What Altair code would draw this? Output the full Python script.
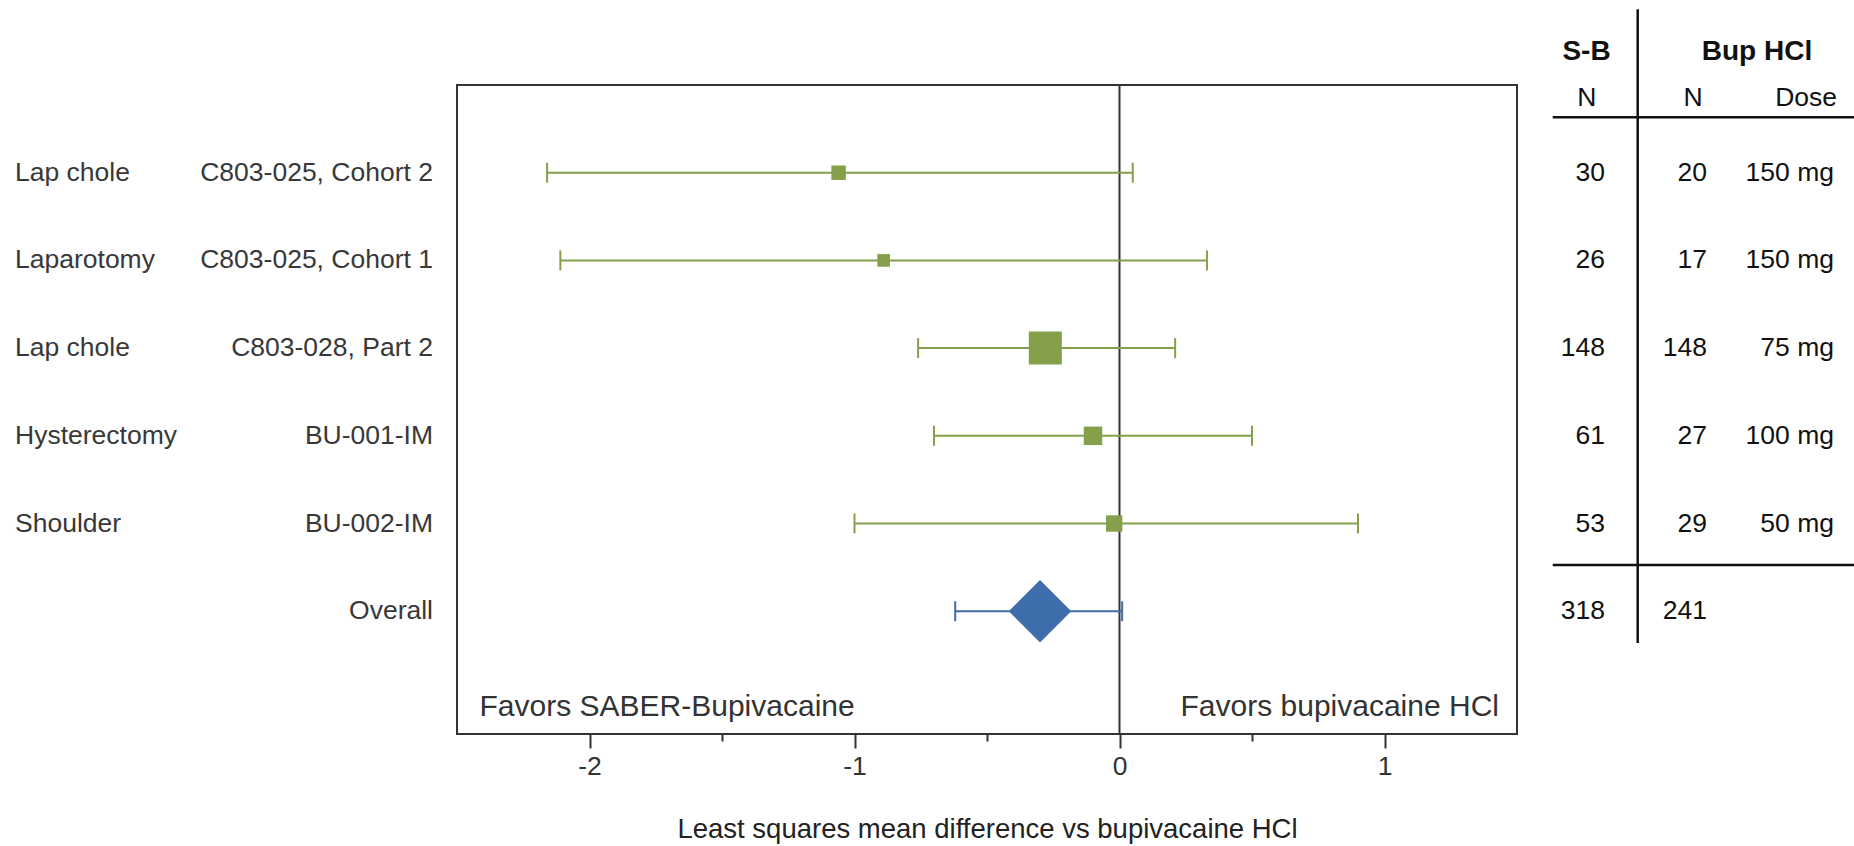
import altair as alt
import pandas as pd

# ---------------- data ----------------
surgery = ["Lap chole", "Laparotomy", "Lap chole", "Hysterectomy", "Shoulder"]
study = ["C803-025, Cohort 2", "C803-025, Cohort 1", "C803-028, Part 2", "BU-001-IM", "BU-002-IM"]
estimate = [-1.06, -0.89, -0.28, -0.10, -0.02]
ci_low = [-2.16, -2.11, -0.76, -0.70, -1.00]
ci_high = [0.05, 0.33, 0.21, 0.50, 0.90]
weight = [10.1, 7.7, 52.7, 16.5, 13.0]
sb_n = ["30", "26", "148", "61", "53"]
bup_n = ["20", "17", "148", "27", "29"]
bup_dose = ["150 mg", "150 mg", "75 mg", "100 mg", "50 mg"]

overall_label = ["Overall"]
overall_est = [-0.30]
overall_low = [-0.62]
overall_high = [0.01]
overall_sb_n = ["318"]
overall_bup_n = ["241"]

x_ticks = [-2, -1.5, -1, -0.5, 0, 0.5, 1]
x_domain = [-2.5, 1.5]
ref_value = [0]

# ---------------- tables ----------------
n_st = len(study)
studies = pd.DataFrame({
    "row": list(range(1, n_st + 1)),
    "surgery": surgery,
    "study": study,
    "estimate": estimate,
    "ci_low": ci_low,
    "ci_high": ci_high,
    "weight": weight,
})
overall = pd.DataFrame({
    "row": [n_st + 1],
    "study": overall_label,
    "estimate": overall_est,
    "ci_low": overall_low,
    "ci_high": overall_high,
})
table = pd.DataFrame({
    "row": list(range(1, n_st + 2)),
    "surgery": surgery + [""],
    "study": study + overall_label,
    "sb_n": sb_n + overall_sb_n,
    "bup_n": bup_n + overall_bup_n,
    "dose": bup_dose + [""],
})
ref = pd.DataFrame({"ref": ref_value})
one = pd.DataFrame({"k": [1]})

# ---------------- styles ----------------
FONT = "Liberation Sans"
GREEN = "#84A04A"
BLUE = "#3D6DAA"
DARK = "#333333"
W, H = 1060, 649

xscale = alt.Scale(domain=x_domain, nice=False, zero=False)
yscale = alt.Scale(domain=[0, 7.4], reverse=True, nice=False, zero=False)
xaxis = alt.Axis(
    values=x_ticks,
    labelExpr="datum.value % 1 === 0 ? '' + datum.value : ''",
    tickSize={"condition": {"test": "datum.value % 1 === 0", "value": 14}, "value": 7},
    tickWidth=2,
    tickColor=DARK,
    domain=False,
    grid=False,
    labelFont=FONT,
    labelFontSize=26.5,
    labelColor=DARK,
    labelPadding=5,
    title="Least squares mean difference vs bupivacaine HCl",
    titleFont=FONT,
    titleFontSize=27.5,
    titleFontWeight="normal",
    titleColor="#222222",
    titlePadding=36,
)


def X(f):
    return alt.X(f, type="quantitative", scale=xscale, axis=xaxis)


def Y(f="row"):
    return alt.Y(f, type="quantitative", scale=yscale, axis=None)


layers = []

# reference line at zero
layers.append(alt.Chart(ref).mark_rule(color=DARK, strokeWidth=2).encode(x=X("ref")))

# study CIs
layers.append(alt.Chart(studies).mark_rule(color=GREEN, strokeWidth=2).encode(
    x=X("ci_low"), x2="ci_high", y=Y()))
for f in ["ci_low", "ci_high"]:
    layers.append(alt.Chart(studies).mark_tick(
        orient="vertical", size=20, thickness=2, color=GREEN, opacity=1).encode(x=X(f), y=Y()))
layers.append(alt.Chart(studies).mark_square(color=GREEN, opacity=1, filled=True).encode(
    x=X("estimate"), y=Y(),
    size=alt.Size("weight:Q", scale=alt.Scale(domain=[0, 100], range=[0, 2070]), legend=None)))

# overall
layers.append(alt.Chart(overall).mark_rule(color=BLUE, strokeWidth=2).encode(
    x=X("ci_low"), x2="ci_high", y=Y()))
for f in ["ci_low", "ci_high"]:
    layers.append(alt.Chart(overall).mark_tick(
        orient="vertical", size=20, thickness=2, color=BLUE, opacity=1).encode(x=X(f), y=Y()))
layers.append(alt.Chart(overall).mark_point(
    shape="diamond", filled=True, size=3900, color=BLUE, opacity=1).encode(x=X("estimate"), y=Y()))

# favors labels
layers.append(alt.Chart(one).mark_text(
    text="Favors SABER-Bupivacaine", align="left", baseline="middle", font=FONT,
    fontSize=30, color=DARK).encode(x=alt.value(22.5), y=alt.value(621.5)))
layers.append(alt.Chart(one).mark_text(
    text="Favors bupivacaine HCl", align="right", baseline="middle", font=FONT,
    fontSize=30, color=DARK).encode(x=alt.value(W - 18), y=alt.value(621.5)))

# left labels
TXT = dict(baseline="middle", font=FONT, fontSize=26.5)
layers.append(alt.Chart(table).mark_text(align="left", color="#383838", **TXT).encode(
    x=alt.value(-442), y=Y(), text="surgery:N"))
layers.append(alt.Chart(table).mark_text(align="right", color="#383838", **TXT).encode(
    x=alt.value(-24), y=Y(), text="study:N"))

# right table
layers.append(alt.Chart(table).mark_text(align="right", color="#111111", **TXT).encode(
    x=alt.value(1148), y=Y(), text="sb_n:N"))
layers.append(alt.Chart(table).mark_text(align="right", color="#111111", **TXT).encode(
    x=alt.value(1250), y=Y(), text="bup_n:N"))
layers.append(alt.Chart(table).mark_text(align="right", color="#111111", **TXT).encode(
    x=alt.value(1377), y=Y(), text="dose:N"))

HDR = dict(baseline="middle", font=FONT, color="#111111")
layers.append(alt.Chart(one).mark_text(text="S-B", align="center", fontSize=28, fontWeight="bold", **HDR)
              .encode(x=alt.value(1129.5), y=alt.value(-33.5)))
layers.append(alt.Chart(one).mark_text(text="Bup HCl", align="center", fontSize=28, fontWeight="bold", **HDR)
              .encode(x=alt.value(1300), y=alt.value(-33.5)))
layers.append(alt.Chart(one).mark_text(text="N", align="center", fontSize=26.5, **HDR)
              .encode(x=alt.value(1129.7), y=alt.value(13)))
layers.append(alt.Chart(one).mark_text(text="N", align="center", fontSize=26.5, **HDR)
              .encode(x=alt.value(1236), y=alt.value(13)))
layers.append(alt.Chart(one).mark_text(text="Dose", align="right", fontSize=26.5, **HDR)
              .encode(x=alt.value(1380), y=alt.value(13)))

# table lines
layers.append(alt.Chart(one).mark_rule(color="#111111", strokeWidth=2.5).encode(
    x=alt.value(1180.7), y=alt.value(-75.7), y2=alt.value(558)))
layers.append(alt.Chart(one).mark_rule(color="#111111", strokeWidth=2.5).encode(
    x=alt.value(1095.7), x2=alt.value(1397), y=alt.value(32.3)))
layers.append(alt.Chart(one).mark_rule(color="#111111", strokeWidth=2.5).encode(
    x=alt.value(1095.7), x2=alt.value(1397), y=alt.value(480)))

chart = alt.layer(*layers).properties(
    width=W,
    height=H,
    padding={"left": 457, "top": 85, "right": 1854 - 457 - W, "bottom": 846 - 85 - H},
    autosize=alt.AutoSizeParams(type="none"),
    background="white",
).configure_view(stroke=DARK, strokeWidth=2)

chart.save("out.html", embed_options={"renderer": "svg", "actions": False})
